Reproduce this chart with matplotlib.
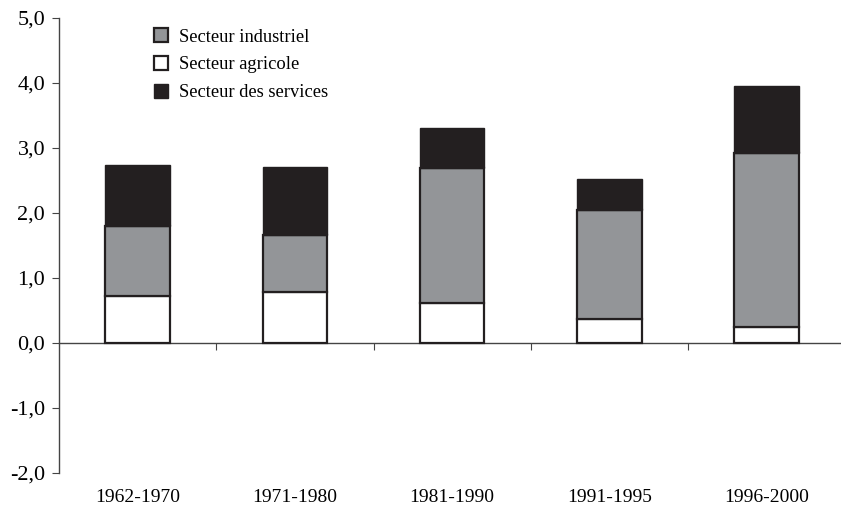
import numpy as np
import matplotlib.pyplot as plt

# ----------------- Data -----------------
periods = ["1962-1970", "1971-1980", "1981-1990", "1991-1995", "1996-2000"]
agricole = [0.72, 0.78, 0.62, 0.37, 0.25]
industriel = [1.08, 0.88, 2.07, 1.68, 2.67]
services = [0.94, 1.05, 0.62, 0.47, 1.03]

plt.rcParams['font.family'] = ['Liberation Serif', 'DejaVu Serif']

fig = plt.figure(figsize=(8.41, 5.08), dpi=100)
ax = fig.add_axes([0.0702, 0.0689, 0.935, 0.8957])

x = np.arange(len(periods))
w = 0.41
agri = np.array(agricole)
ind = np.array(industriel)
serv = np.array(services)

b_agri = ax.bar(x, agri, w, color='white', edgecolor='#231f20', linewidth=1.6,
                label='Secteur agricole', zorder=3)
b_ind = ax.bar(x, ind, w, bottom=agri, color='#939598', edgecolor='#231f20',
               linewidth=1.6, label='Secteur industriel', zorder=3)
b_serv = ax.bar(x, serv, w, bottom=agri + ind, color='#231f20', edgecolor='#231f20',
                linewidth=1.0, label='Secteur des services', zorder=3)

ax.set_xlim(-0.5, 4.5)
ax.set_ylim(-2.0, 5.0)
ax.set_yticks(np.arange(-2, 5.1, 1))
ax.set_yticklabels([f"{v:.1f}".replace('.', ',') for v in np.arange(-2, 5.1, 1)],
                   fontsize=16)

ax.spines['top'].set_visible(False)
ax.spines['right'].set_visible(False)
ax.spines['bottom'].set_position(('data', 0))
for s in ['left', 'bottom']:
    ax.spines[s].set_color('#444444')
    ax.spines[s].set_linewidth(1.0)

ax.set_xticks(x[:-1] + 0.5)
ax.set_xticklabels([])
ax.tick_params(axis='x', direction='out', length=5, color='#444444')
ax.tick_params(axis='y', direction='out', length=5, color='#444444', pad=5)

for i, p in enumerate(periods):
    ax.text(i, -2.37, p, ha='center', va='center', fontsize=14)

ax.legend(handles=[b_ind, b_agri, b_serv], loc='upper left',
          bbox_to_anchor=(0.099, 1.014), frameon=False, fontsize=13.3,
          handlelength=0.8, handleheight=0.8, handletextpad=0.6,
          labelspacing=0.55)

plt.savefig("out.png", dpi=100)
